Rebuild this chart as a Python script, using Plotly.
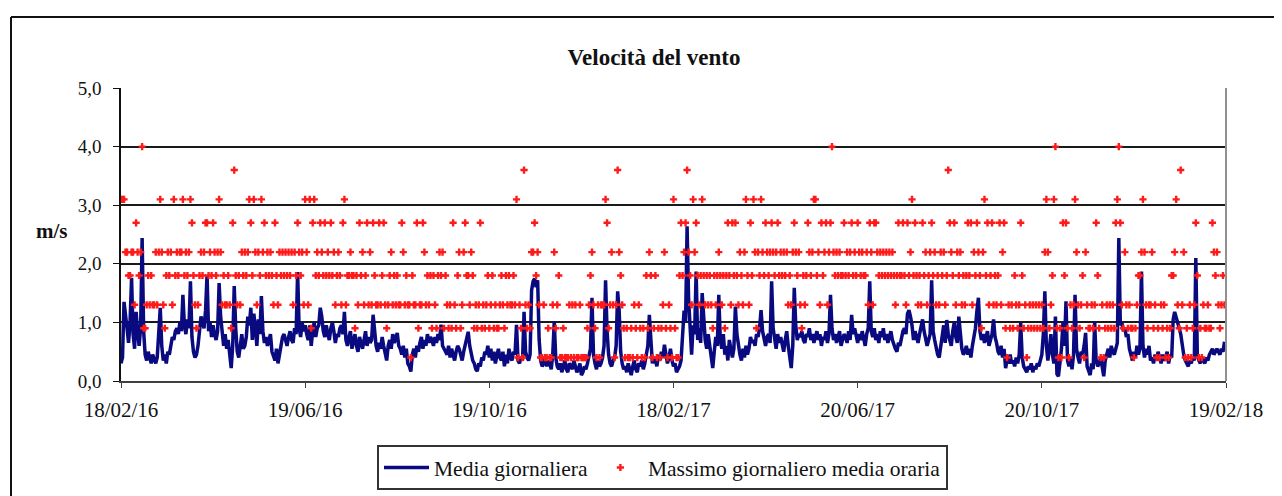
import plotly.graph_objects as go
import pandas as pd

# ---------------- data ----------------
start_date = "2016-02-18"
tick_dates = ["2016-02-18", "2016-06-19", "2016-10-19", "2017-02-18",
              "2017-06-20", "2017-10-20", "2018-02-19"]
tick_labels = ["18/02/16", "19/06/16", "19/10/16", "18/02/17",
               "20/06/17", "20/10/17", "19/02/18"]
y_ticks = [0, 1, 2, 3, 4, 5]
y_labels = ["0,0", "1,0", "2,0", "3,0", "4,0", "5,0"]

# daily mean wind speed (m/s), one value per day from 18/02/16
media_giornaliera = [
    0.30, 0.40, 1.35, 1.05, 0.90, 0.65, 1.00, 1.76, 0.80, 0.55,
    1.18, 0.85, 0.60, 0.90, 2.44, 0.85, 0.45, 0.35, 0.50, 0.40,
    0.30, 0.45, 0.35, 0.30, 0.40, 0.75, 1.25, 0.60, 0.35, 0.45,
    0.30, 0.50, 0.45, 0.60, 0.75, 0.70, 0.85, 0.90, 0.80, 1.00,
    0.85, 1.47, 0.95, 0.80, 1.05, 0.90, 1.70, 0.75, 0.50, 0.40,
    0.45, 0.60, 0.95, 1.10, 1.00, 0.90, 1.20, 1.81, 0.85, 1.00,
    0.75, 0.95, 0.80, 0.70, 0.85, 1.67, 1.10, 0.75, 0.60, 0.80,
    0.55, 0.70, 0.45, 0.22, 0.60, 1.62, 0.90, 0.50, 0.40, 0.65,
    0.80, 0.55, 0.60, 0.75, 1.10, 0.95, 1.25, 0.70, 1.15, 0.90,
    0.60, 1.05, 0.80, 1.45, 0.85, 0.65, 0.75, 0.60, 0.70, 0.80,
    0.50, 0.40, 0.35, 0.55, 0.30, 0.45, 0.60, 0.75, 0.80, 0.70,
    0.60, 0.75, 0.85, 0.70, 0.65, 0.90, 0.80, 1.86, 0.90, 0.75,
    1.00, 0.85, 0.95, 0.80, 0.70, 0.95, 0.60, 0.85, 1.00, 0.75,
    0.90, 0.95, 1.25, 1.10, 0.85, 0.75, 0.95, 0.80, 0.70, 0.90,
    1.00, 0.85, 0.65, 0.80, 0.75, 0.90, 0.95, 0.80, 1.18, 0.70,
    0.60, 0.75, 0.85, 0.55, 0.70, 0.80, 0.60, 0.50, 0.75, 0.65,
    0.55, 0.70, 0.85, 0.60, 0.75, 0.65, 0.70, 1.13, 0.80, 0.60,
    0.50, 0.65, 0.55, 0.75, 0.60, 0.45, 0.35, 0.60, 0.70, 0.55,
    0.80, 0.65, 0.75, 0.82, 0.60, 0.55, 0.45, 0.60, 0.40, 0.55,
    0.30, 0.25, 0.16, 0.45, 0.55, 0.40, 0.60, 0.50, 0.65, 0.75,
    0.55, 0.70, 0.60, 0.80, 0.65, 0.75, 0.70, 0.60, 0.75, 0.65,
    0.80, 0.70, 0.96, 0.60, 0.55, 0.50, 0.45, 0.60, 0.40, 0.55,
    0.45, 0.35, 0.50, 0.60, 0.55, 0.45, 0.35, 0.50, 0.60, 0.70,
    0.84, 0.60, 0.45, 0.35, 0.30, 0.20, 0.17, 0.30, 0.25, 0.40,
    0.35, 0.50, 0.45, 0.60, 0.40, 0.55, 0.35, 0.50, 0.30, 0.45,
    0.55, 0.40, 0.35, 0.50, 0.25, 0.45, 0.30, 0.55, 0.40, 0.35,
    0.50, 0.45, 0.96, 0.35, 0.30, 0.40, 0.35, 1.18, 0.50, 0.40,
    0.35, 0.45, 1.55, 1.70, 1.75, 1.60, 1.72, 0.70, 0.35, 0.25,
    0.30, 0.40, 0.25, 0.35, 0.30, 0.20, 0.45, 1.01, 0.40, 0.25,
    0.20, 0.30, 0.15, 0.25, 0.35, 0.20, 0.15, 0.30, 0.25, 0.20,
    0.35, 0.25, 0.15, 0.20, 0.30, 0.10, 0.15, 0.25, 0.20, 0.30,
    0.40, 0.55, 1.42, 0.45, 0.30, 0.20, 0.35, 0.25, 0.30, 0.40,
    0.60, 1.72, 0.85, 0.45, 0.30, 0.25, 0.35, 0.40, 0.60, 1.53,
    1.20, 0.50, 0.30, 0.20, 0.25, 0.15, 0.30, 0.20, 0.10, 0.25,
    0.35, 0.20, 0.15, 0.30, 0.25, 0.35, 0.20, 0.30, 0.45, 0.60,
    1.13, 0.55, 0.30, 0.40, 0.35, 0.25, 0.45, 0.35, 0.50, 0.40,
    0.62, 0.45, 0.30, 0.40, 0.55, 0.35, 0.25, 0.30, 0.15, 0.20,
    0.25, 0.35, 0.80, 1.20, 1.00, 2.64, 1.40, 0.75, 0.45, 0.95,
    0.80, 1.87, 0.70, 0.90, 0.65, 1.50, 1.00, 0.70, 0.55, 0.80,
    0.60, 0.35, 0.22, 0.50, 0.75, 0.60, 1.47, 0.70, 0.55, 0.80,
    0.45, 0.60, 0.35, 0.70, 0.50, 0.40, 0.55, 1.27, 0.80, 0.60,
    0.45, 0.35, 0.55, 0.40, 0.60, 0.45, 0.55, 0.75, 0.65, 0.70,
    0.60, 0.80, 0.75, 0.90, 1.21, 0.85, 0.70, 0.60, 0.75, 0.80,
    0.65, 1.70, 0.90, 0.70, 0.55, 0.80, 0.65, 0.75, 0.60, 0.50,
    0.70, 0.85, 0.60, 0.45, 0.22, 0.60, 1.59, 0.95, 0.70, 0.80,
    0.75, 0.85, 0.70, 0.65, 0.80, 0.75, 0.90, 0.70, 0.80, 0.65,
    0.75, 0.85, 0.70, 0.80, 0.60, 0.75, 0.70, 0.85, 0.65, 0.80,
    1.47, 0.90, 0.70, 0.80, 0.65, 0.75, 0.85, 0.60, 0.70, 0.80,
    0.75, 0.65, 0.85, 0.70, 1.13, 0.80, 0.90, 0.75, 0.65, 0.80,
    0.70, 0.85, 0.75, 0.60, 0.80, 0.90, 1.70, 0.85, 0.75, 0.90,
    0.70, 0.80, 0.65, 0.85, 0.75, 0.90, 0.70, 0.80, 0.65, 0.75,
    0.85, 0.70, 0.60, 0.55, 0.50, 0.65, 0.60, 0.75, 0.85, 0.90,
    0.80, 1.15, 1.21, 1.10, 0.95, 0.70, 0.85, 0.75, 0.65, 0.80,
    0.90, 1.05, 0.85, 0.75, 0.60, 0.70, 0.80, 1.72, 0.85, 0.70,
    0.55, 0.45, 0.40, 0.60, 0.75, 0.95, 0.65, 1.04, 0.80, 0.70,
    0.60, 0.85, 1.00, 0.75, 0.65, 1.10, 0.80, 0.55, 0.45, 0.50,
    0.60, 0.45, 0.55, 0.40, 0.60, 0.75, 0.90, 1.20, 1.42, 0.85,
    0.70, 0.80, 0.65, 0.75, 0.85, 0.60, 0.70, 0.80, 1.05, 0.75,
    0.65, 0.50, 0.45, 0.60, 0.40, 0.55, 0.22, 0.35, 0.30, 0.45,
    0.30, 0.35, 0.25, 0.40, 0.30, 0.45, 0.99, 0.40, 0.25, 0.20,
    0.15, 0.25, 0.20, 0.30, 0.15, 0.25, 0.20, 0.30, 0.25, 0.35,
    0.45, 0.80, 1.53, 0.60, 0.35, 0.55, 0.80, 0.45, 0.30, 1.10,
    0.12, 0.08, 0.30, 0.55, 1.01, 0.60, 1.36, 0.35, 0.25, 0.40,
    0.20, 0.45, 1.47, 0.55, 0.40, 0.30, 0.50, 0.45, 0.60, 0.82,
    0.25, 0.15, 0.10, 0.30, 0.20, 1.01, 0.35, 0.25, 0.30, 0.40,
    0.20, 0.08, 0.35, 0.45, 0.55, 0.40, 0.60, 0.50, 0.45, 0.55,
    0.65, 2.44, 0.95, 1.00, 0.85, 0.90, 0.75, 0.80, 0.55, 0.45,
    0.35, 0.50, 0.40, 0.60, 0.45, 0.55, 1.87, 0.60, 0.40, 0.55,
    0.45, 0.60, 0.35, 0.40, 0.30, 0.45, 0.35, 0.50, 0.40, 0.30,
    0.45, 0.35, 0.40, 0.50, 0.30, 0.45, 0.40, 1.05, 1.18, 1.10,
    1.00, 0.90, 0.80, 0.60, 0.45, 0.35, 0.30, 0.25, 0.35, 0.30,
    0.40, 0.35, 2.10, 0.45, 0.35, 0.30, 0.40, 0.35, 0.30, 0.40,
    0.35, 0.45, 0.50, 0.55, 0.45, 0.50, 0.55, 0.50, 0.45, 0.55,
    0.50, 0.67,
]

# daily maximum of the hourly means (m/s), one value per day from 18/02/16
massimo_giornaliero = [
    3.1, 3.1, 3.1, 2.2, 2.2, 1.8, 1.8, 2.2, 2.2, 1.3,
    2.7, 2.2, 1.8, 2.2, 4.0, 0.9, 0.9, 1.3, 1.8, 1.3,
    1.8, 1.3, 1.3, 2.2, 1.3, 2.2, 3.1, 2.2, 1.3, 0.9,
    1.8, 2.2, 1.8, 2.2, 1.3, 3.1, 1.8, 2.2, 1.8, 2.2,
    2.2, 3.1, 1.8, 2.2, 1.8, 2.2, 3.1, 2.7, 1.8, 1.3,
    0.9, 1.3, 1.8, 2.2, 1.8, 2.2, 2.7, 2.7, 1.8, 2.2,
    1.8, 2.7, 2.2, 1.8, 2.2, 3.1, 2.2, 1.3, 1.8, 1.3,
    1.3, 1.8, 1.3, 0.9, 2.7, 3.6, 1.8, 1.3, 1.8, 1.3,
    2.2, 1.8, 2.2, 1.8, 2.2, 3.1, 2.7, 1.8, 3.1, 2.2,
    1.3, 2.2, 1.8, 3.1, 2.2, 2.7, 1.8, 2.2, 1.8, 2.2,
    1.8, 1.3, 2.7, 1.8, 1.3, 2.2, 1.8, 2.2, 1.8, 2.2,
    1.8, 2.2, 1.8, 2.2, 1.3, 2.2, 1.8, 2.7, 2.2, 1.8,
    2.2, 1.3, 3.1, 2.2, 1.3, 3.1, 0.9, 2.7, 3.1, 1.8,
    2.2, 1.8, 2.7, 2.2, 1.8, 2.7, 1.8, 2.2, 1.8, 2.7,
    1.8, 2.2, 1.3, 1.8, 2.2, 1.8, 1.3, 2.7, 3.1, 1.3,
    1.8, 1.8, 2.2, 1.8, 1.8, 0.9, 1.8, 1.3, 2.7, 1.8,
    2.2, 1.3, 1.8, 2.7, 1.3, 2.2, 1.3, 2.7, 1.8, 1.3,
    1.3, 2.7, 1.3, 1.8, 2.7, 1.3, 0.9, 1.3, 1.8, 2.2,
    1.3, 1.8, 1.3, 1.8, 1.3, 1.3, 2.7, 2.2, 1.3, 1.8,
    1.3, 1.3, 0.4, 1.8, 1.3, 1.3, 2.7, 0.9, 1.3, 1.3,
    2.7, 2.2, 1.3, 1.8, 1.3, 1.8, 0.9, 1.8, 1.3, 0.9,
    1.8, 2.2, 1.8, 2.2, 0.9, 1.8, 1.3, 0.9, 1.3, 0.9,
    2.7, 1.3, 0.9, 1.8, 2.2, 0.9, 1.3, 2.2, 2.7, 1.8,
    1.8, 1.3, 2.2, 1.8, 0.9, 1.3, 0.9, 1.3, 2.7, 0.9,
    1.3, 0.9, 1.3, 1.8, 0.9, 1.3, 1.8, 0.9, 1.3, 0.9,
    0.9, 1.3, 1.8, 1.3, 0.9, 1.8, 1.3, 1.8, 1.3, 1.3,
    1.8, 1.3, 3.1, 0.4, 1.3, 0.9, 0.4, 3.6, 1.3, 0.9,
    1.3, 0.9, 2.2, 2.2, 2.7, 1.8, 2.2, 1.3, 0.4, 0.4,
    1.3, 0.4, 0.4, 0.9, 0.4, 0.4, 1.3, 2.2, 0.9, 1.3,
    1.8, 0.4, 0.4, 0.9, 0.4, 0.4, 0.4, 1.3, 0.4, 1.3,
    0.4, 1.3, 0.4, 0.4, 1.3, 0.4, 0.4, 0.4, 0.4, 0.9,
    1.3, 1.8, 2.2, 1.3, 0.9, 0.4, 1.3, 0.4, 1.3, 1.3,
    1.3, 3.1, 2.7, 0.9, 1.3, 2.2, 1.3, 0.4, 1.3, 3.6,
    2.2, 1.8, 1.3, 0.9, 0.4, 0.9, 0.4, 0.4, 0.9, 0.4,
    1.3, 0.9, 0.4, 1.3, 0.9, 0.4, 0.9, 0.4, 1.8, 0.9,
    2.2, 1.8, 0.4, 0.9, 1.8, 0.4, 0.9, 0.4, 0.9, 1.3,
    2.2, 0.9, 0.4, 1.3, 0.9, 0.4, 3.1, 0.9, 0.4, 0.4,
    1.8, 2.7, 1.8, 2.2, 2.7, 3.6, 2.2, 1.8, 1.3, 3.1,
    2.2, 2.7, 1.8, 1.3, 1.8, 3.1, 1.8, 1.3, 1.8, 1.3,
    1.8, 1.3, 0.9, 1.8, 1.3, 1.8, 2.2, 1.8, 1.3, 1.8,
    0.9, 1.8, 2.7, 1.8, 1.3, 2.7, 1.8, 2.7, 1.8, 1.3,
    2.2, 1.8, 1.3, 2.2, 3.1, 1.8, 1.3, 2.7, 1.8, 3.1,
    2.2, 0.9, 2.2, 1.8, 3.1, 2.2, 1.8, 2.7, 2.2, 1.8,
    2.2, 2.7, 2.2, 1.8, 2.2, 2.7, 1.8, 2.2, 1.8, 2.2,
    1.8, 2.2, 1.3, 1.8, 1.3, 2.2, 2.7, 2.2, 1.8, 2.2,
    1.3, 0.9, 1.8, 1.3, 1.8, 2.7, 2.2, 1.8, 2.2, 3.1,
    3.1, 1.8, 2.2, 1.3, 2.7, 1.8, 2.2, 2.7, 1.3, 2.2,
    2.7, 4.0, 2.2, 1.8, 2.2, 1.8, 2.2, 1.8, 1.8, 2.7,
    1.8, 2.2, 1.8, 2.2, 2.7, 1.8, 2.2, 1.8, 2.7, 2.2,
    1.8, 2.2, 1.8, 1.8, 2.2, 1.3, 2.7, 2.2, 1.3, 2.7,
    2.7, 2.2, 1.8, 2.2, 1.8, 2.2, 1.8, 2.2, 1.8, 2.2,
    1.8, 2.2, 1.8, 1.3, 1.8, 2.7, 1.8, 1.8, 2.7, 1.8,
    1.3, 2.7, 1.8, 2.2, 3.1, 1.8, 2.7, 1.8, 1.3, 1.8,
    1.3, 2.7, 1.8, 2.2, 1.3, 1.8, 2.2, 2.7, 1.8, 2.2,
    1.3, 1.8, 1.3, 2.2, 1.8, 2.2, 1.3, 1.8, 3.6, 2.7,
    2.2, 1.8, 2.7, 1.3, 2.2, 1.8, 2.2, 1.3, 1.8, 1.3,
    1.8, 2.7, 1.8, 2.7, 1.3, 2.2, 1.8, 2.7, 2.2, 1.8,
    0.9, 2.2, 3.1, 1.8, 2.7, 1.3, 1.8, 2.7, 1.3, 1.8,
    1.3, 1.8, 2.7, 1.3, 2.2, 2.7, 0.9, 0.4, 1.3, 0.9,
    1.3, 0.9, 1.8, 1.3, 0.9, 1.3, 2.7, 1.8, 0.9, 1.3,
    0.4, 0.9, 1.3, 0.9, 1.3, 0.9, 1.3, 0.9, 1.3, 0.9,
    1.3, 0.9, 2.2, 3.1, 2.2, 0.9, 1.3, 1.8, 3.1, 4.0,
    0.9, 0.4, 0.9, 0.4, 2.7, 1.8, 2.7, 0.9, 0.4, 1.3,
    0.9, 1.3, 3.1, 2.2, 1.3, 0.9, 1.3, 1.8, 0.4, 2.2,
    1.3, 0.9, 0.9, 1.3, 0.9, 1.3, 2.7, 1.8, 0.9, 0.4,
    1.3, 0.4, 0.9, 1.3, 0.9, 1.3, 0.9, 1.3, 0.9, 2.7,
    3.1, 4.0, 2.7, 1.3, 0.9, 2.2, 1.3, 0.9, 1.3, 0.9,
    0.9, 0.4, 0.9, 1.3, 1.8, 1.8, 2.2, 3.1, 2.2, 1.3,
    0.9, 1.3, 1.3, 2.2, 0.9, 1.3, 0.4, 0.9, 0.4, 1.3,
    0.9, 1.3, 0.4, 0.9, 0.4, 0.9, 1.8, 1.8, 2.2, 3.1,
    1.3, 0.9, 3.6, 1.3, 2.2, 0.4, 0.9, 0.4, 1.3, 0.4,
    0.9, 1.3, 2.7, 1.8, 0.4, 0.9, 0.4, 1.3, 0.9, 0.9,
    1.3, 0.9, 0.9, 2.7, 2.2, 1.8, 2.2, 1.3, 0.9, 1.3,
    1.8, 1.3,
]

dates_media = pd.date_range(start_date, periods=len(media_giornaliera), freq="D")
dates_max = pd.date_range(start_date, periods=len(massimo_giornaliero), freq="D")

SERIF = "Liberation Serif, Times New Roman, serif"

fig = go.Figure()
fig.add_trace(go.Scatter(
    x=dates_media, y=media_giornaliera, mode="lines",
    name="Media giornaliera",
    line=dict(color="#0a0a80", width=3.5),
))
fig.add_trace(go.Scatter(
    x=dates_max, y=massimo_giornaliero, mode="markers",
    name="Massimo giornaliero media oraria",
    marker=dict(symbol="cross", size=6, color="#ff1a1a", line=dict(width=0)),
))

# the page places the figure 8 px right and 8 px down (body margin),
# so reference pixel positions are converted with that offset
OFF = 8
W, H = 1282, 496
L, R, T, B = 121 - OFF, W - (1226 - OFF), 88 - OFF, H - (381 - OFF)
pw, ph = W - L - R, H - T - B

def px_x(x):
    return (x - OFF - L) / pw

def px_y(y):
    return (H - B - (y - OFF)) / ph

fig.update_layout(
    width=W, height=H,
    margin=dict(l=L, r=R, t=T, b=B),
    paper_bgcolor="white", plot_bgcolor="white",
    font=dict(family=SERIF, size=19, color="#111111"),
    title=dict(text="<b>Velocità del vento</b>", x=(654 - OFF) / W, xanchor="center",
               y=1 - (57 - OFF) / H, yanchor="middle",
               font=dict(family=SERIF, size=23, color="#111111")),
    showlegend=True,
    legend=dict(orientation="h", x=px_x(377), xanchor="left",
                y=px_y(445), yanchor="top",
                bordercolor="#333333", borderwidth=2,
                bgcolor="white", font=dict(family=SERIF, size=21.5, color="#111111"),
                itemwidth=45, tracegroupgap=0),
    xaxis=dict(
        type="date",
        range=[tick_dates[0], tick_dates[-1]],
        tickmode="array", tickvals=tick_dates, ticktext=tick_labels,
        showgrid=False, zeroline=False,
        showline=True, linecolor="#404040", linewidth=1.5,
        ticks="outside", ticklen=5, tickcolor="#404040", tickwidth=1,
        tickfont=dict(family=SERIF, size=21, color="#111111"),
        ticklabelstandoff=4,
    ),
    yaxis=dict(
        range=[0, 5],
        tickmode="array", tickvals=y_ticks, ticktext=y_labels,
        showgrid=True, gridcolor="#1a1a1a", gridwidth=1.5,
        zeroline=False,
        showline=True, linecolor="#111111", linewidth=1.5,
        ticks="outside", ticklen=6, tickcolor="#111111", tickwidth=1,
        tickfont=dict(family=SERIF, size=19, color="#111111"),
        ticklabelstandoff=8,
    ),
    shapes=[
        # plot-area frame (right side grey)
        dict(type="line", xref="paper", yref="paper", x0=1, x1=1, y0=0, y1=1,
             line=dict(color="#909090", width=2)),
        # outer chart border (top and left visible, rest outside the image)
        dict(type="line", xref="paper", yref="paper",
             x0=px_x(11), x1=px_x(1300), y0=px_y(17), y1=px_y(17),
             line=dict(color="#111111", width=2)),
        dict(type="line", xref="paper", yref="paper",
             x0=px_x(11), x1=px_x(11), y0=px_y(17), y1=px_y(520),
             line=dict(color="#111111", width=2)),
    ],
    annotations=[
        dict(text="<b>m/s</b>", xref="paper", yref="paper",
             x=px_x(52), y=px_y(231), xanchor="center", yanchor="middle",
             showarrow=False, font=dict(family=SERIF, size=21, color="#111111")),
    ],
)

fig.write_html("out.html")
